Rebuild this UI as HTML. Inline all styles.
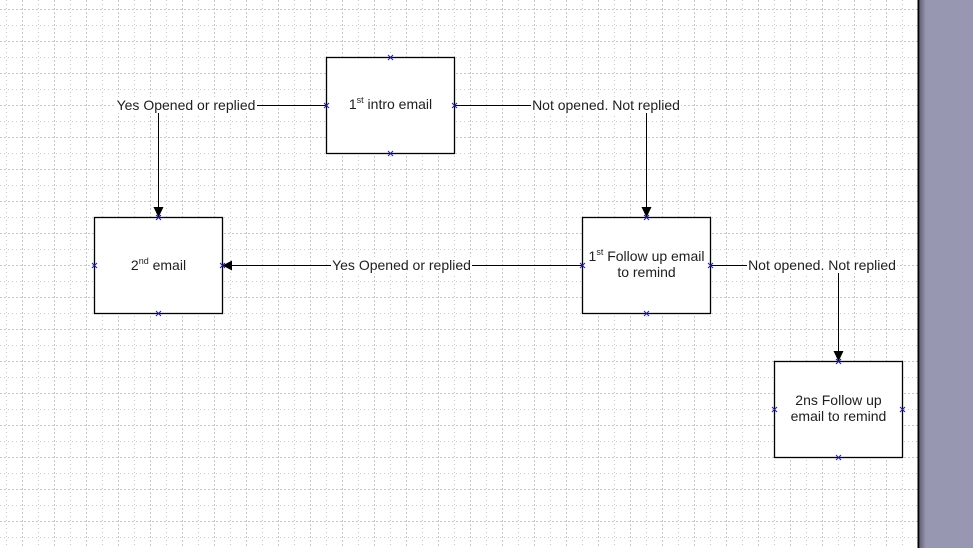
<!DOCTYPE html>
<html>
<head>
<meta charset="utf-8">
<style>
  html, body { margin:0; padding:0; background:#fff; }
  body { width:973px; height:548px; overflow:hidden; }
  svg { display:block; }
  text { font-family: "Liberation Sans", Arial, sans-serif; font-size:14px; fill:#1e1e1e; }
</style>
</head>
<body>
<svg width="973" height="548" viewBox="0 0 973 548" xmlns="http://www.w3.org/2000/svg">
  <defs>
    <linearGradient id="shadow" x1="0" x2="1" y1="0" y2="0">
      <stop offset="0" stop-color="#5e5e74"/>
      <stop offset="1" stop-color="#9797b1"/>
    </linearGradient>
  </defs>
  <rect x="0" y="0" width="973" height="548" fill="#ffffff"/>

  <g shape-rendering="crispEdges" stroke-width="1">
    <g stroke="#cbcbcb" stroke-dasharray="1 3">
      <line x1="6.5" y1="0" x2="6.5" y2="548"/><line x1="38.5" y1="0" x2="38.5" y2="548"/><line x1="70.5" y1="0" x2="70.5" y2="548"/><line x1="102.5" y1="0" x2="102.5" y2="548"/><line x1="134.5" y1="0" x2="134.5" y2="548"/><line x1="166.5" y1="0" x2="166.5" y2="548"/><line x1="198.5" y1="0" x2="198.5" y2="548"/><line x1="230.5" y1="0" x2="230.5" y2="548"/><line x1="262.5" y1="0" x2="262.5" y2="548"/><line x1="294.5" y1="0" x2="294.5" y2="548"/><line x1="326.5" y1="0" x2="326.5" y2="548"/><line x1="358.5" y1="0" x2="358.5" y2="548"/><line x1="390.5" y1="0" x2="390.5" y2="548"/><line x1="422.5" y1="0" x2="422.5" y2="548"/><line x1="454.5" y1="0" x2="454.5" y2="548"/><line x1="486.5" y1="0" x2="486.5" y2="548"/><line x1="518.5" y1="0" x2="518.5" y2="548"/><line x1="550.5" y1="0" x2="550.5" y2="548"/><line x1="582.5" y1="0" x2="582.5" y2="548"/><line x1="614.5" y1="0" x2="614.5" y2="548"/><line x1="646.5" y1="0" x2="646.5" y2="548"/><line x1="678.5" y1="0" x2="678.5" y2="548"/><line x1="710.5" y1="0" x2="710.5" y2="548"/><line x1="742.5" y1="0" x2="742.5" y2="548"/><line x1="774.5" y1="0" x2="774.5" y2="548"/><line x1="806.5" y1="0" x2="806.5" y2="548"/><line x1="838.5" y1="0" x2="838.5" y2="548"/><line x1="870.5" y1="0" x2="870.5" y2="548"/><line x1="902.5" y1="0" x2="902.5" y2="548"/>
      <line x1="0" y1="25.5" x2="918" y2="25.5"/><line x1="0" y1="57.5" x2="918" y2="57.5"/><line x1="0" y1="89.5" x2="918" y2="89.5"/><line x1="0" y1="121.5" x2="918" y2="121.5"/><line x1="0" y1="153.5" x2="918" y2="153.5"/><line x1="0" y1="185.5" x2="918" y2="185.5"/><line x1="0" y1="217.5" x2="918" y2="217.5"/><line x1="0" y1="249.5" x2="918" y2="249.5"/><line x1="0" y1="281.5" x2="918" y2="281.5"/><line x1="0" y1="313.5" x2="918" y2="313.5"/><line x1="0" y1="345.5" x2="918" y2="345.5"/><line x1="0" y1="377.5" x2="918" y2="377.5"/><line x1="0" y1="409.5" x2="918" y2="409.5"/><line x1="0" y1="441.5" x2="918" y2="441.5"/><line x1="0" y1="473.5" x2="918" y2="473.5"/><line x1="0" y1="505.5" x2="918" y2="505.5"/><line x1="0" y1="537.5" x2="918" y2="537.5"/>
    </g>
    <g stroke="#c6c6c6" stroke-dasharray="2 2">
      <line x1="22.5" y1="0" x2="22.5" y2="548"/><line x1="54.5" y1="0" x2="54.5" y2="548"/><line x1="86.5" y1="0" x2="86.5" y2="548"/><line x1="118.5" y1="0" x2="118.5" y2="548"/><line x1="150.5" y1="0" x2="150.5" y2="548"/><line x1="182.5" y1="0" x2="182.5" y2="548"/><line x1="214.5" y1="0" x2="214.5" y2="548"/><line x1="246.5" y1="0" x2="246.5" y2="548"/><line x1="278.5" y1="0" x2="278.5" y2="548"/><line x1="310.5" y1="0" x2="310.5" y2="548"/><line x1="342.5" y1="0" x2="342.5" y2="548"/><line x1="374.5" y1="0" x2="374.5" y2="548"/><line x1="406.5" y1="0" x2="406.5" y2="548"/><line x1="438.5" y1="0" x2="438.5" y2="548"/><line x1="470.5" y1="0" x2="470.5" y2="548"/><line x1="502.5" y1="0" x2="502.5" y2="548"/><line x1="534.5" y1="0" x2="534.5" y2="548"/><line x1="566.5" y1="0" x2="566.5" y2="548"/><line x1="598.5" y1="0" x2="598.5" y2="548"/><line x1="630.5" y1="0" x2="630.5" y2="548"/><line x1="662.5" y1="0" x2="662.5" y2="548"/><line x1="694.5" y1="0" x2="694.5" y2="548"/><line x1="726.5" y1="0" x2="726.5" y2="548"/><line x1="758.5" y1="0" x2="758.5" y2="548"/><line x1="790.5" y1="0" x2="790.5" y2="548"/><line x1="822.5" y1="0" x2="822.5" y2="548"/><line x1="854.5" y1="0" x2="854.5" y2="548"/><line x1="886.5" y1="0" x2="886.5" y2="548"/>
      <line x1="0" y1="9.5" x2="918" y2="9.5"/><line x1="0" y1="41.5" x2="918" y2="41.5"/><line x1="0" y1="73.5" x2="918" y2="73.5"/><line x1="0" y1="105.5" x2="918" y2="105.5"/><line x1="0" y1="137.5" x2="918" y2="137.5"/><line x1="0" y1="169.5" x2="918" y2="169.5"/><line x1="0" y1="201.5" x2="918" y2="201.5"/><line x1="0" y1="233.5" x2="918" y2="233.5"/><line x1="0" y1="265.5" x2="918" y2="265.5"/><line x1="0" y1="297.5" x2="918" y2="297.5"/><line x1="0" y1="329.5" x2="918" y2="329.5"/><line x1="0" y1="361.5" x2="918" y2="361.5"/><line x1="0" y1="393.5" x2="918" y2="393.5"/><line x1="0" y1="425.5" x2="918" y2="425.5"/><line x1="0" y1="457.5" x2="918" y2="457.5"/><line x1="0" y1="489.5" x2="918" y2="489.5"/><line x1="0" y1="521.5" x2="918" y2="521.5"/>
    </g>
  </g>

  <g fill="#ffffff" stroke="#000" stroke-width="1.3">
    <rect x="326.5" y="57.5" width="128" height="96"/>
    <rect x="94.5" y="217.5" width="128" height="96"/>
    <rect x="582.5" y="217.5" width="128" height="96"/>
    <rect x="774.5" y="361.5" width="128" height="96"/>
  </g>

  <g fill="none" stroke="#000" stroke-width="1">
    <polyline points="326,105.5 158.5,105.5 158.5,208"/>
    <polyline points="454,105.5 646.5,105.5 646.5,208"/>
    <polyline points="582,265.5 231,265.5"/>
    <polyline points="710,265.5 838.5,265.5 838.5,352"/>
  </g>
  <g fill="#000">
    <polygon points="153.5,207 163.5,207 158.5,217.5"/>
    <polygon points="641.5,207 651.5,207 646.5,217.5"/>
    <polygon points="232,260.5 232,270.5 222.5,265.5"/>
    <polygon points="833.5,351 843.5,351 838.5,361.5"/>
  </g>

  <g fill="#ffffff">
    <rect x="115" y="97" width="142" height="16"/>
    <rect x="531" y="97" width="150" height="16"/>
    <rect x="331" y="257" width="141" height="16"/>
    <rect x="747" y="257" width="150" height="16"/>
  </g>
  <text x="186" y="110" text-anchor="middle">Yes Opened or replied</text>
  <text x="606" y="110" text-anchor="middle">Not opened. Not replied</text>
  <text x="401.5" y="270" text-anchor="middle">Yes Opened or replied</text>
  <text x="822" y="270" text-anchor="middle">Not opened. Not replied</text>

  <text x="390.5" y="109" text-anchor="middle">1<tspan font-size="9" dy="-6">st</tspan><tspan dy="6"> intro email</tspan></text>
  <text x="158.5" y="270" text-anchor="middle">2<tspan font-size="9" dy="-6">nd</tspan><tspan dy="6"> email</tspan></text>
  <text x="646.5" y="261" text-anchor="middle">1<tspan font-size="9" dy="-6">st</tspan><tspan dy="6"> Follow up email</tspan></text>
  <text x="646.5" y="277" text-anchor="middle">to remind</text>
  <text x="838.5" y="405" text-anchor="middle">2ns Follow up</text>
  <text x="838.5" y="421" text-anchor="middle">email to remind</text>

  <g stroke="#1a1ad0" stroke-width="1" fill="none">
    <path d="M388,55l5,5m0,-5l-5,5 M388,151l5,5m0,-5l-5,5 M324,103l5,5m0,-5l-5,5 M452,103l5,5m0,-5l-5,5"/>
    <path d="M156,215l5,5m0,-5l-5,5 M156,311l5,5m0,-5l-5,5 M92,263l5,5m0,-5l-5,5 M220,263l5,5m0,-5l-5,5"/>
    <path d="M644,215l5,5m0,-5l-5,5 M644,311l5,5m0,-5l-5,5 M580,263l5,5m0,-5l-5,5 M708,263l5,5m0,-5l-5,5"/>
    <path d="M836,359l5,5m0,-5l-5,5 M836,455l5,5m0,-5l-5,5 M772,407l5,5m0,-5l-5,5 M900,407l5,5m0,-5l-5,5"/>
  </g>

  <rect x="918" y="0" width="55" height="548" fill="#9797b1"/>
  <rect x="919" y="0" width="7" height="548" fill="url(#shadow)"/>
  <rect x="917.5" y="0" width="1.8" height="548" fill="#000"/>
</svg>
</body>
</html>
